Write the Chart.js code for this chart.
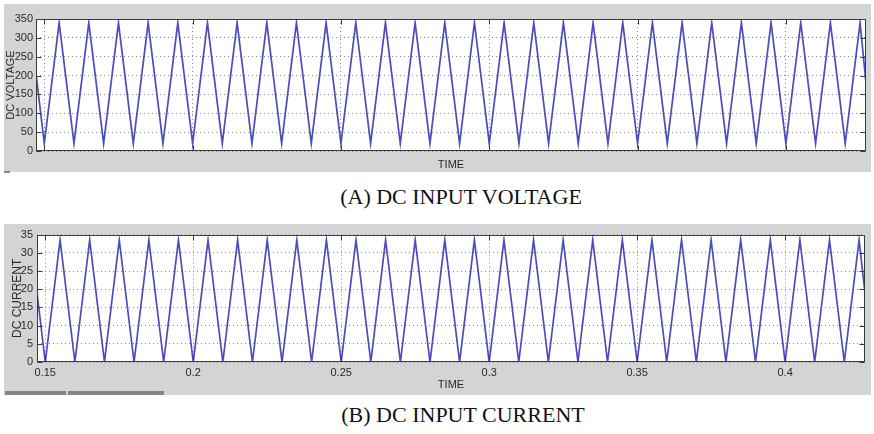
<!DOCTYPE html>
<html>
<head>
<meta charset="utf-8">
<script src="https://cdn.jsdelivr.net/npm/chart.js@4/dist/chart.umd.min.js"></script>
<style>
  html, body { margin: 0; padding: 0; background: #ffffff; }
  body { width: 874px; height: 434px; position: relative; overflow: hidden; }
  .panel { position: absolute; background: #d4d4d4; }
  .panel canvas { position: absolute; left: 0; top: 0; }
  .caption { position: absolute; transform: translateX(-50%); white-space: nowrap;
             font-family: "Liberation Serif", "Times New Roman", serif; font-size: 22px;
             line-height: 22px; color: #111; }
  .bar { position: absolute; background: #858585; }
</style>
</head>
<body>
<div class="panel" id="p1" style="left:4px; top:4px; width:867px; height:168px;">
  <canvas id="c1" width="867" height="168"></canvas>
</div>
<div class="bar" style="left:4px; top:171px; width:6px; height:2px;"></div>
<div class="caption" style="left:461px; top:186px;">(A) DC INPUT VOLTAGE</div>

<div class="panel" id="p2" style="left:4px; top:224px; width:867px; height:171px;">
  <canvas id="c2" width="867" height="171"></canvas>
</div>
<div class="bar" style="left:5px; top:391px; width:61px; height:4px;"></div>
<div class="bar" style="left:68px; top:391px; width:96px; height:4px;"></div>
<div class="caption" style="left:463px; top:404px;">(B) DC INPUT CURRENT</div>

<script>
// ---- data (time in s) ----
const xMin = 0.1472;
const xMax = 0.4270;
const xTickValues = [0.15, 0.2, 0.25, 0.3, 0.35, 0.4];
const xTickLabels = ['0.15', '0.2', '0.25', '0.3', '0.35', '0.4'];

// DC input voltage waveform vertices (troughs / peaks)
const voltTime = [0.1472, 0.150, 0.155, 0.160, 0.165, 0.170, 0.175, 0.180, 0.185, 0.190, 0.195,
  0.200, 0.205, 0.210, 0.215, 0.220, 0.225, 0.230, 0.235, 0.240, 0.245,
  0.250, 0.255, 0.260, 0.265, 0.270, 0.275, 0.280, 0.285, 0.290, 0.295,
  0.300, 0.305, 0.310, 0.315, 0.320, 0.325, 0.330, 0.335, 0.340, 0.345,
  0.350, 0.355, 0.360, 0.365, 0.370, 0.375, 0.380, 0.385, 0.390, 0.395,
  0.400, 0.405, 0.410, 0.415, 0.420, 0.425, 0.4270];
const voltValue = [205, 20, 340, 20, 340, 20, 340, 20, 340, 20, 340,
  20, 340, 20, 340, 20, 340, 20, 340, 20, 340,
  20, 340, 20, 340, 20, 340, 20, 340, 20, 340,
  20, 340, 20, 340, 20, 340, 20, 340, 20, 340,
  20, 340, 20, 340, 20, 340, 20, 340, 20, 340,
  20, 340, 20, 340, 20, 340, 180];

// DC input current waveform vertices (troughs / peaks)
const currTime = [0.1472, 0.150, 0.155, 0.160, 0.165, 0.170, 0.175, 0.180, 0.185, 0.190, 0.195,
  0.200, 0.205, 0.210, 0.215, 0.220, 0.225, 0.230, 0.235, 0.240, 0.245,
  0.250, 0.255, 0.260, 0.265, 0.270, 0.275, 0.280, 0.285, 0.290, 0.295,
  0.300, 0.305, 0.310, 0.315, 0.320, 0.325, 0.330, 0.335, 0.340, 0.345,
  0.350, 0.355, 0.360, 0.365, 0.370, 0.375, 0.380, 0.385, 0.390, 0.395,
  0.400, 0.405, 0.410, 0.415, 0.420, 0.425, 0.4270];
const currValue = [19, 0, 33.5, 0, 33.5, 0, 33.5, 0, 33.5, 0, 33.5,
  0, 33.5, 0, 33.5, 0, 33.5, 0, 33.5, 0, 33.5,
  0, 33.5, 0, 33.5, 0, 33.5, 0, 33.5, 0, 33.5,
  0, 33.5, 0, 33.5, 0, 33.5, 0, 33.5, 0, 33.5,
  0, 33.5, 0, 33.5, 0, 33.5, 0, 33.5, 0, 33.5,
  0, 33.5, 0, 33.5, 0, 33.5, 19];

// ---- chart helpers ----
const axisFont = { family: '"Liberation Sans", Arial, sans-serif', size: 11 };
const textColor = '#2a2a2a';
const lineColor = '#4c4cc0';

const framePlugin = {
  id: 'matlabFrame',
  beforeDraw(chart) {
    const { ctx, chartArea: a } = chart;
    ctx.save();
    ctx.fillStyle = '#ffffff';
    ctx.fillRect(a.left, a.top, a.right - a.left, a.bottom - a.top);
    ctx.restore();
  },
  afterDraw(chart) {
    const { ctx, chartArea: a, scales } = chart;
    const L = Math.round(a.left) + 0.5, R = Math.round(a.right) - 0.5;
    const T = Math.round(a.top) + 0.5, B = Math.round(a.bottom) - 0.5;
    const len = 5;
    ctx.save();
    ctx.strokeStyle = '#3a3a3a';
    ctx.lineWidth = 1;
    ctx.beginPath();
    scales.x.ticks.forEach(t => {
      const px = Math.round(scales.x.getPixelForValue(t.value)) + 0.5;
      ctx.moveTo(px, B); ctx.lineTo(px, B - len);
      ctx.moveTo(px, T); ctx.lineTo(px, T + len);
    });
    scales.y.ticks.forEach(t => {
      const py = Math.round(scales.y.getPixelForValue(t.value)) + 0.5;
      ctx.moveTo(L, py); ctx.lineTo(L + len, py);
      ctx.moveTo(R, py); ctx.lineTo(R - len, py);
    });
    ctx.stroke();
    ctx.strokeRect(L, T, R - L, B - T);
    ctx.restore();
  }
};

function makeChart(id, times, values, opt) {
  const pts = times.map((t, i) => ({ x: t, y: values[i] }));
  return new Chart(document.getElementById(id), {
    type: 'scatter',
    data: { datasets: [{ data: pts, showLine: true, borderColor: lineColor, borderWidth: 1.7,
                         pointRadius: 0, tension: 0, fill: false }] },
    options: {
      responsive: false, animation: false, devicePixelRatio: 1,
      plugins: { legend: { display: false }, tooltip: { enabled: false } },
      layout: { padding: { top: opt.padTop, right: opt.padRight, left: 0, bottom: 0 } },
      scales: {
        x: {
          type: 'linear', min: xMin, max: xMax,
          afterBuildTicks: s => { s.ticks = xTickValues.map(v => ({ value: v })); },
          afterFit: s => { s.height = opt.xHeight; },
          grid: { color: '#8a8a8a', lineWidth: 1, drawTicks: false },
          border: { display: false, dash: [1, 3] },
          ticks: { display: opt.showXTicks, color: textColor, font: axisFont, padding: 4, maxRotation: 0,
                   callback: (v, i) => xTickLabels[i] },
          title: { display: true, text: 'TIME', color: textColor, font: axisFont,
                   padding: { top: 0, bottom: opt.xTitlePad } }
        },
        y: {
          min: 0, max: opt.yMax,
          ticks: { stepSize: opt.yStep, color: textColor, font: axisFont, padding: opt.yTickPad },
          afterFit: s => { s.width = opt.yWidth; },
          grid: { color: '#8a8a8a', lineWidth: 1, drawTicks: false },
          border: { display: false, dash: [1, 3] },
          title: { display: true, text: opt.yTitle, color: textColor,
                   font: { family: axisFont.family, size: opt.yTitleSize },
                   padding: { top: opt.yTitlePad, bottom: 0 } }
        }
      }
    },
    plugins: [framePlugin]
  });
}

makeChart('c1', voltTime, voltValue, {
  padTop: 15, padRight: 5, xHeight: 21, showXTicks: false, xTitlePad: 0,
  yMax: 350, yStep: 50, yWidth: 32, yTickPad: 3, yTitle: 'DC VOLTAGE', yTitleSize: 11, yTitlePad: 0
});
makeChart('c2', currTime, currValue, {
  padTop: 7, padRight: 6, xHeight: 33, showXTicks: true, xTitlePad: 3,
  yMax: 35, yStep: 5, yWidth: 33, yTickPad: 4, yTitle: 'DC CURRENT', yTitleSize: 12, yTitlePad: 6
});
</script>
</body>
</html>
